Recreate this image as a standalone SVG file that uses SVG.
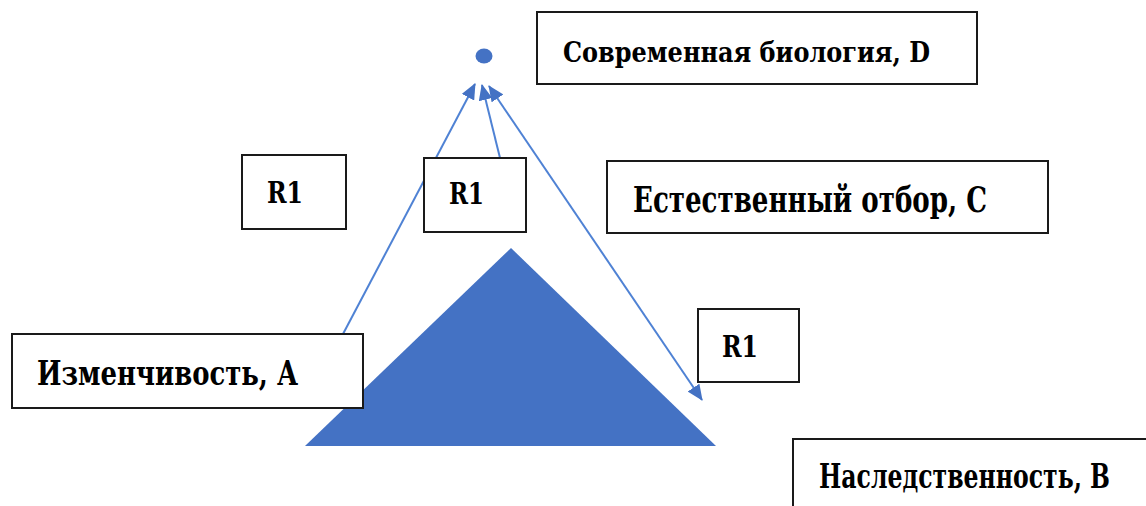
<svg xmlns="http://www.w3.org/2000/svg" width="1146" height="506" viewBox="0 0 1146 506">
  <style>
    .box { fill: #ffffff; stroke: #1a1a1a; stroke-width: 2; }
    .lbl { font-family: "DejaVu Serif", "Liberation Serif", serif; font-weight: bold; fill: #000000; }
    .conn { stroke: #4F82D4; stroke-width: 2; fill: none; }
  </style>
  <defs>
    <marker id="ah" markerUnits="userSpaceOnUse" markerWidth="16" markerHeight="14" refX="15" refY="7" orient="auto-start-reverse" viewBox="0 0 16 14">
      <path d="M0,0 L16,7 L0,14 Z" fill="#4472C4"/>
    </marker>
  </defs>

  <rect width="1146" height="506" fill="#ffffff"/>

  <g id="triangle">
    <polygon points="511,248 305,446 716,446" fill="#4472C4"/>
  </g>

  <g id="dot">
    <ellipse cx="484" cy="56" rx="8.5" ry="7.5" fill="#4472C4"/>
  </g>

  <g id="connectors">
    <line class="conn" x1="343" y1="334" x2="475" y2="84" marker-end="url(#ah)"/>
    <line class="conn" x1="500" y1="158" x2="482" y2="85" marker-end="url(#ah)"/>
    <line class="conn" x1="489" y1="86" x2="702" y2="400" marker-start="url(#ah)" marker-end="url(#ah)"/>
  </g>

  <g id="nodeD">
    <rect class="box" x="537" y="12" width="440" height="72"/>
    <text class="lbl" x="563" y="62" font-size="28" textLength="367" lengthAdjust="spacingAndGlyphs">Современная биология, D</text>
  </g>

  <g id="r1left">
    <rect class="box" x="242" y="155" width="104" height="74"/>
    <text class="lbl" x="267" y="203" font-size="29" textLength="36" lengthAdjust="spacingAndGlyphs">R1</text>
  </g>

  <g id="r1mid">
    <rect class="box" x="424" y="158" width="102" height="74"/>
    <text class="lbl" x="449" y="204" font-size="29" textLength="35" lengthAdjust="spacingAndGlyphs">R1</text>
  </g>

  <g id="nodeC">
    <rect class="box" x="607" y="161" width="441" height="72"/>
    <text class="lbl" x="633" y="212" font-size="35" textLength="354" lengthAdjust="spacingAndGlyphs">Естественный отбор, С</text>
  </g>

  <g id="r1right">
    <rect class="box" x="698" y="309" width="101" height="73"/>
    <text class="lbl" x="722" y="357" font-size="29" textLength="36" lengthAdjust="spacingAndGlyphs">R1</text>
  </g>

  <g id="nodeA">
    <rect class="box" x="12" y="334" width="351" height="74"/>
    <text class="lbl" x="37" y="385" font-size="33" textLength="261" lengthAdjust="spacingAndGlyphs">Изменчивость, А</text>
  </g>

  <g id="nodeB">
    <rect class="box" x="793" y="439" width="360" height="80"/>
    <text class="lbl" x="819" y="488" font-size="33" textLength="291" lengthAdjust="spacingAndGlyphs">Наследственность, В</text>
  </g>
</svg>
